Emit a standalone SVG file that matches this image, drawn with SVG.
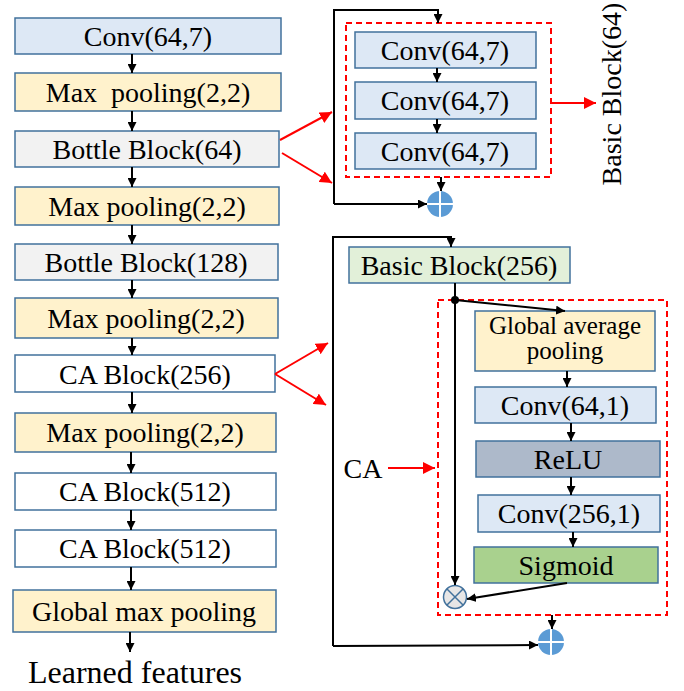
<svg xmlns="http://www.w3.org/2000/svg" width="684" height="691" viewBox="0 0 684 691">
  <style>
    .box { stroke: #41719c; stroke-width: 1.5; }
    .conv { fill: #dde8f5; }
    .pool { fill: #fff2cc; }
    .bottle { fill: #f2f2f2; }
    .ca { fill: #ffffff; }
    .basic { fill: #e2f0d9; }
    .relu { fill: #adb9ca; }
    .sig { fill: #a9d18e; }
    .lbl { font-family: "Liberation Serif", "Times New Roman", serif; font-size: 28px; fill: #000; text-anchor: middle; }
    .sm { font-size: 25px; }
    .blk { stroke: #000; stroke-width: 2; fill: none; }
    .red { stroke: #ff0000; stroke-width: 2; fill: none; }
    .dash { stroke: #ff0000; stroke-width: 2; fill: none; stroke-dasharray: 6 4; }
  </style>
  <defs>
    <marker id="ah" viewBox="0 0 10 10" refX="10" refY="5" markerWidth="9" markerHeight="9" markerUnits="userSpaceOnUse" orient="auto">
      <path d="M0,0 L10,5 L0,10 z" fill="#000"/>
    </marker>
    <marker id="ahr" viewBox="0 0 10 10" refX="10" refY="5" markerWidth="12" markerHeight="12" markerUnits="userSpaceOnUse" orient="auto">
      <path d="M0,0 L10,5 L0,10 z" fill="#ff0000"/>
    </marker>
  </defs>

  <!-- main backbone -->
  <g id="conv1"><rect class="box conv" x="15" y="18" width="266" height="36"/><text class="lbl" x="148" y="46">Conv(64,7)</text></g>
  <g id="pool1"><rect class="box pool" x="15" y="73" width="266" height="38"/><text class="lbl" x="148" y="102" xml:space="preserve">Max  pooling(2,2)</text></g>
  <g id="bottle64"><rect class="box bottle" x="15" y="131" width="264" height="36"/><text class="lbl" x="147" y="159">Bottle Block(64)</text></g>
  <g id="pool2"><rect class="box pool" x="15" y="187" width="264" height="38"/><text class="lbl" x="147" y="216">Max pooling(2,2)</text></g>
  <g id="bottle128"><rect class="box bottle" x="15" y="244" width="263" height="36"/><text class="lbl" x="146" y="272">Bottle Block(128)</text></g>
  <g id="pool3"><rect class="box pool" x="15" y="298" width="263" height="40"/><text class="lbl" x="146" y="328">Max pooling(2,2)</text></g>
  <g id="ca256"><rect class="box ca" x="15" y="355" width="260" height="37"/><text class="lbl" x="145" y="384">CA Block(256)</text></g>
  <g id="pool4"><rect class="box pool" x="15" y="413" width="261" height="39"/><text class="lbl" x="145" y="442">Max pooling(2,2)</text></g>
  <g id="ca512a"><rect class="box ca" x="15" y="473" width="261" height="37"/><text class="lbl" x="145" y="501">CA Block(512)</text></g>
  <g id="ca512b"><rect class="box ca" x="15" y="530" width="261" height="37"/><text class="lbl" x="145" y="558">CA Block(512)</text></g>
  <g id="gmp"><rect class="box pool" x="13" y="590" width="263" height="42"/><text class="lbl" x="144" y="621">Global max pooling</text></g>
  <g id="features"><text class="lbl" x="135" y="683" style="font-size:32px">Learned features</text></g>

  <!-- basic block (64) detail -->
  <g id="basic64">
    <rect class="dash" x="346" y="23" width="205" height="154"/>
    <rect class="box conv" x="355" y="32" width="181" height="36"/><text class="lbl" x="445" y="60">Conv(64,7)</text>
    <rect class="box conv" x="355" y="82" width="181" height="37"/><text class="lbl" x="445" y="110">Conv(64,7)</text>
    <rect class="box conv" x="355" y="133" width="181" height="36"/><text class="lbl" x="445" y="161">Conv(64,7)</text>
  </g>
  <g id="basic64-label"><text class="lbl" transform="translate(621,94) rotate(-90)">Basic Block(64)</text></g>
  <g id="add1">
    <circle cx="440" cy="204" r="13" fill="#5b9bd5"/>
    <path d="M427,204 H453 M440,191 V217" stroke="#fff" stroke-width="2"/>
  </g>

  <!-- CA block detail -->
  <g id="basic256"><rect class="box basic" x="349" y="247" width="221" height="36"/><text class="lbl" x="459" y="275">Basic Block(256)</text></g>
  <g id="ca-detail">
    <rect class="dash" x="438" y="300" width="229" height="315"/>
  </g>
  <g id="gap"><rect class="box pool" x="475" y="311" width="180" height="60"/><text class="lbl sm" x="565" y="334">Global average</text><text class="lbl sm" x="565" y="359">pooling</text></g>
  <g id="conv64-1"><rect class="box conv" x="475" y="387" width="181" height="36"/><text class="lbl" x="565" y="415">Conv(64,1)</text></g>
  <g id="relu"><rect class="box relu" x="476" y="441" width="184" height="36"/><text class="lbl" x="568" y="469">ReLU</text></g>
  <g id="conv256-1"><rect class="box conv" x="478" y="495" width="182" height="37"/><text class="lbl" x="569" y="523">Conv(256,1)</text></g>
  <g id="sigmoid"><rect class="box sig" x="474" y="547" width="184" height="36"/><text class="lbl" x="566" y="575">Sigmoid</text></g>
  <g id="mul">
    <circle cx="455" cy="597" r="11.5" fill="#e7e6e6" stroke="#41719c" stroke-width="1.5"/>
    <path d="M447,589 L463,605 M463,589 L447,605" stroke="#41719c" stroke-width="1.5"/>
  </g>
  <g id="add2">
    <circle cx="551" cy="642" r="13" fill="#5b9bd5"/>
    <path d="M538,642 H564 M551,629 V655" stroke="#fff" stroke-width="2"/>
  </g>
  <g id="ca-label"><text class="lbl" x="363" y="478">CA</text></g>

  <!-- connectors -->
  <g id="connectors">
    <path class="blk" marker-end="url(#ah)" d="M132,54 V73"/>
    <path class="blk" marker-end="url(#ah)" d="M132,111 V131"/>
    <path class="blk" marker-end="url(#ah)" d="M132,167 V187"/>
    <path class="blk" marker-end="url(#ah)" d="M132,225 V244"/>
    <path class="blk" marker-end="url(#ah)" d="M132,280 V298"/>
    <path class="blk" marker-end="url(#ah)" d="M132,338 V355"/>
    <path class="blk" marker-end="url(#ah)" d="M132,392 V413"/>
    <path class="blk" marker-end="url(#ah)" d="M131,452 V473"/>
    <path class="blk" marker-end="url(#ah)" d="M131,510 V530"/>
    <path class="blk" marker-end="url(#ah)" d="M131,567 V590"/>
    <path class="blk" marker-end="url(#ah)" d="M130,632 V652"/>

    <!-- bottle block expansion -->
    <path class="red" marker-end="url(#ahr)" d="M280,140 L332,112"/>
    <path class="red" marker-end="url(#ahr)" d="M282,153 L332,183"/>
    <path class="blk" marker-end="url(#ah)" d="M334,204 V10 H438 V23"/>
    <path class="blk" marker-end="url(#ah)" d="M437,68 V82"/>
    <path class="blk" marker-end="url(#ah)" d="M437,119 V133"/>
    <path class="blk" marker-end="url(#ah)" d="M441,177 V191"/>
    <path class="blk" marker-end="url(#ah)" d="M334,204 H427"/>
    <path class="red" marker-end="url(#ahr)" d="M551,103 H596"/>

    <!-- CA block expansion -->
    <path class="red" marker-end="url(#ahr)" d="M275,374 L328,343"/>
    <path class="red" marker-end="url(#ahr)" d="M275,374 L326,405"/>
    <path class="blk" marker-end="url(#ah)" d="M333,646 V237 H451 V247"/>
    <path class="blk" marker-end="url(#ah)" d="M455,283 V585"/>
    <circle cx="455" cy="300" r="4" fill="#000"/>
    <path class="blk" marker-end="url(#ah)" d="M455,300 L565,311"/>
    <path class="blk" marker-end="url(#ah)" d="M567,371 V387"/>
    <path class="blk" marker-end="url(#ah)" d="M571,423 V441"/>
    <path class="blk" marker-end="url(#ah)" d="M571,477 V495"/>
    <path class="blk" marker-end="url(#ah)" d="M573,532 V547"/>
    <path class="blk" marker-end="url(#ah)" d="M567,583 L467,599"/>
    <path class="blk" marker-end="url(#ah)" d="M552,615 V629"/>
    <path class="blk" marker-end="url(#ah)" d="M333,646 L538,645"/>
    <path class="red" marker-end="url(#ahr)" d="M388,468 H435"/>
  </g>
</svg>
